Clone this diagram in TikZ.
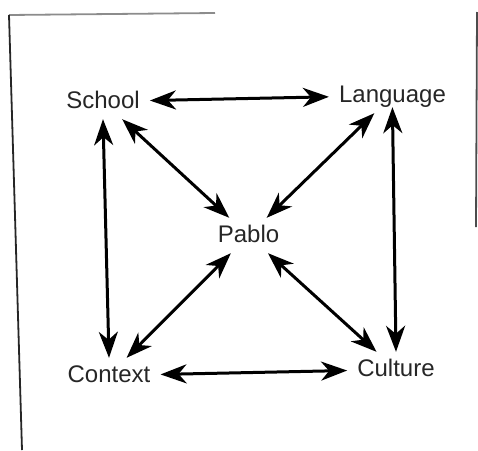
\documentclass[tikz,border=0pt]{standalone}
\usepackage{fontspec}
\setsansfont{Liberation Sans}
\usetikzlibrary{arrows.meta}

\begin{document}
\begin{tikzpicture}[
    x=1pt, y=-1pt,
    font=\sffamily\fontsize{24}{28}\selectfont,
    term/.style={inner xsep=10pt, inner ysep=6pt, text height=18pt, text depth=5pt, text=black!85},
    link/.style={{Stealth[length=26pt,width=19pt,inset=8pt]}-{Stealth[length=26pt,width=19pt,inset=8pt]}, line width=3pt},
    edge/.style={line width=1.8pt},
]

% ===== Canvas (same size as the scan) =====
\useasboundingbox (0,0) rectangle (478,450);

% ===== Frame (partly faded in the scan) =====
\draw[edge, black!45] (9,15) -- (215,13);
\draw[edge, black!85] (9,15) -- (22,450);
\draw[edge, black!70] (477,12) -- (476,227);

% ===== Terms =====
\node[term] (school)   at (103,101.5)   {School};
\node[term] (language) at (392.5,95.5)  {Language};
\node[term] (pablo)    at (248.5,235.5) {Pablo};
\node[term] (context)  at (109,375.5)   {Context};
\node[term] (culture)  at (396,369.5)   {Culture};

% ===== Links (all two-way) =====
% outer square
\draw[link] (school) -- (language);
\draw[link] (context) -- (culture);
\draw[link] (school.south) -- (context.north);
\draw[link, shorten <=-6pt] (language.south) -- (culture.north);

% diagonals through Pablo
\draw[link] (school) -- (pablo);
\draw[link] (language) -- (pablo);
\draw[link] (context) -- (pablo);
\draw[link] (culture) -- (pablo);

\end{tikzpicture}
\end{document}
